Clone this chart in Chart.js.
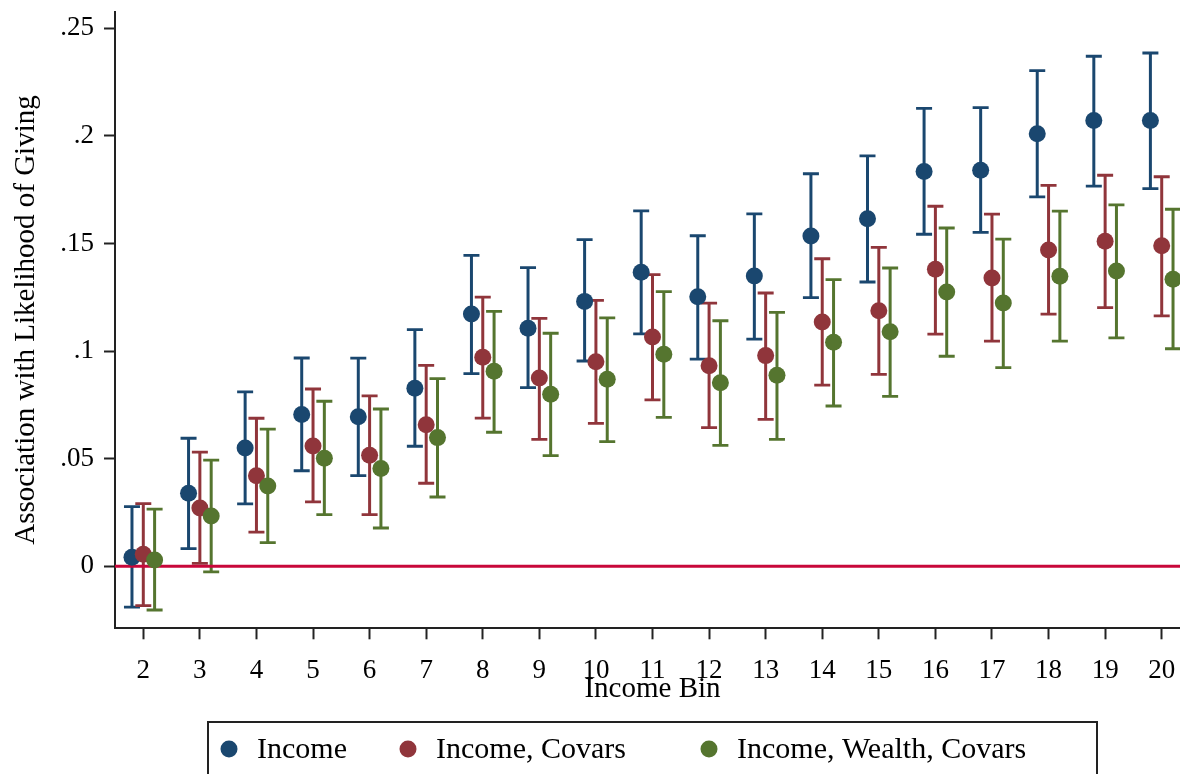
<!DOCTYPE html>
<html>
<head>
<meta charset="utf-8">
<script src="https://cdn.jsdelivr.net/npm/chart.js@4"></script>
<style>
body{margin:0;overflow:hidden;background:#fff;}
#wrap{width:1200px;height:800px;}
</style>
</head>
<body>
<div id="wrap"><canvas id="coefChart" width="1200" height="800"></canvas></div>
<script>

/* data */

var bins=[2,3,4,5,6,7,8,9,10,11,12,13,14,15,16,17,18,19,20];

var incomeEst=[0.0042,0.0339,0.055,0.0705,0.0695,0.0827,0.1172,0.1106,0.1231,0.1366,0.1253,0.1349,0.1535,0.1615,0.1835,0.184,0.201,0.2071,0.2071];
var incomeLo=[-0.019,0.0082,0.029,0.0444,0.0421,0.0558,0.0895,0.083,0.0954,0.108,0.0963,0.1056,0.1248,0.1321,0.1543,0.1552,0.1717,0.1767,0.1755];
var incomeHi=[0.0277,0.0595,0.0811,0.0968,0.0967,0.11,0.1445,0.1388,0.1518,0.1652,0.1536,0.1638,0.1824,0.1907,0.2128,0.2131,0.2303,0.237,0.2385];

var covarsEst=[0.0056,0.0271,0.0421,0.0559,0.0516,0.0658,0.0971,0.0875,0.0951,0.1066,0.0932,0.0979,0.1135,0.1188,0.138,0.134,0.147,0.151,0.149];
var covarsLo=[-0.0183,0.0014,0.0159,0.0299,0.024,0.0386,0.0689,0.059,0.0664,0.0773,0.0644,0.0683,0.0842,0.0892,0.1079,0.1046,0.1172,0.1202,0.1164];
var covarsHi=[0.0291,0.0531,0.0688,0.0824,0.0792,0.0934,0.1251,0.1152,0.1236,0.1355,0.1223,0.127,0.1429,0.1482,0.1673,0.1636,0.177,0.1817,0.181];

var wealthEst=[0.0029,0.0234,0.0373,0.0502,0.0455,0.0598,0.0906,0.0799,0.0869,0.0985,0.0853,0.0888,0.1041,0.109,0.1275,0.1223,0.1348,0.1372,0.1334];
var wealthLo=[-0.0203,-0.0026,0.011,0.024,0.0178,0.0322,0.0623,0.0514,0.0579,0.0692,0.0562,0.059,0.0745,0.079,0.0976,0.0923,0.1046,0.1061,0.1011];
var wealthHi=[0.0266,0.0493,0.0637,0.0767,0.0731,0.0872,0.1185,0.1083,0.1154,0.1276,0.1141,0.118,0.1332,0.1386,0.1572,0.152,0.165,0.1679,0.1659];

var yTicks=[0,0.05,0.1,0.15,0.2,0.25];
var yTickLabels=["0",".05",".1",".15",".2",".25"];

var seriesNames=["Income","Income, Covars","Income, Wealth, Covars"];
var seriesColors=["#1a476f","#90353b","#55752f"];
var offsets=[-0.2,0,0.2];

var FONT="'Liberation Serif','Times New Roman',serif";

function makePoints(est,off){
return bins.map(function(b,i){ return {x:b+off,y:est[i]}; });
}

function makeSet(k,est,lo,hi){
return {
label:seriesNames[k],
data:makePoints(est,offsets[k]),
lo:lo,hi:hi,off:offsets[k],
backgroundColor:seriesColors[k],
borderColor:seriesColors[k],
borderWidth:0,
pointRadius:8.5,
pointHoverRadius:8.5,
showLine:false,
order:3-k
};
}

/* error bars, then the zero line over them, all under the points */

var ciPlugin={
id:'ciPlugin',
beforeDatasetsDraw:function(chart){
var c=chart.ctx, xs=chart.scales.x, ys=chart.scales.y, a=chart.chartArea;
c.save();
chart.data.datasets.forEach(function(ds){
c.strokeStyle=ds.borderColor;
bins.forEach(function(b,i){
var x=xs.getPixelForValue(b+ds.off);
var yl=ys.getPixelForValue(ds.lo[i]);
var yh=ys.getPixelForValue(ds.hi[i]);
c.lineWidth=3;
c.beginPath();c.moveTo(x,yl);c.lineTo(x,yh);c.stroke();
c.lineWidth=2.8;
c.beginPath();
c.moveTo(x-8,yl);c.lineTo(x+8,yl);
c.moveTo(x-8,yh);c.lineTo(x+8,yh);
c.stroke();
});
});
var y0=ys.getPixelForValue(0);
c.strokeStyle="#c8073a";
c.lineWidth=3;
c.beginPath();c.moveTo(a.left,y0);c.lineTo(a.right,y0);c.stroke();
c.restore();
}
};

/* Stata style legend box under the plot */

var legendBox={
id:'legendBox',
afterDraw:function(chart){
var c=chart.ctx, a=chart.chartArea;
var cx=(a.left+a.right)/2;
var left=cx-444.5, top=722;
c.save();
c.strokeStyle="#222";
c.lineWidth=2;
c.strokeRect(left,top,889,56);
var dotX=[21,200,501];
c.font="30px "+FONT;
c.textBaseline="middle";
chart.data.datasets.forEach(function(ds,k){
c.fillStyle=ds.backgroundColor;
c.beginPath();
c.arc(left+dotX[k],749,8.5,0,Math.PI*2);
c.fill();
c.fillStyle="#000";
c.fillText(ds.label,left+dotX[k]+28,750);
});
c.restore();
}
};

new Chart(document.getElementById('coefChart'),{
type:'scatter',
data:{
datasets:[
makeSet(0,incomeEst,incomeLo,incomeHi),
makeSet(1,covarsEst,covarsLo,covarsHi),
makeSet(2,wealthEst,wealthLo,wealthHi)
]
},
plugins:[ciPlugin,legendBox],
options:{
responsive:false,
animation:false,
devicePixelRatio:1,
layout:{padding:{top:11.7,left:0,right:10,bottom:94.4}},
plugins:{legend:{display:false},tooltip:{enabled:false}},
scales:{
x:{
type:'linear',
min:1.5,
max:20.5,
afterBuildTicks:function(s){ s.ticks=bins.map(function(b){return {value:b};}); },
afterFit:function(s){ s.height=77.3; s.paddingLeft=0; s.paddingRight=0; },
border:{display:true,color:"#222",width:2},
grid:{display:true,drawOnChartArea:false,drawTicks:true,tickLength:11,tickColor:"#222",tickWidth:2},
ticks:{color:"#000",padding:15,font:{family:FONT,size:27,lineHeight:1.2},maxRotation:0,autoSkip:false},
title:{display:true,text:"Income Bin",color:"#000",padding:{top:0,bottom:0},font:{family:FONT,size:29,lineHeight:1.1}}
},
y:{
type:'linear',
min:-0.0288,
max:0.2577,
afterBuildTicks:function(s){ s.ticks=yTicks.map(function(v){return {value:v};}); },
afterFit:function(s){ s.width=115; s.paddingTop=0; s.paddingBottom=0; },
border:{display:true,color:"#222",width:2},
grid:{display:true,drawOnChartArea:false,drawTicks:true,tickLength:11,tickColor:"#222",tickWidth:2},
ticks:{
color:"#000",padding:10,font:{family:FONT,size:27,lineHeight:1.2},
callback:function(v){ var i=yTicks.indexOf(v); return i>=0?yTickLabels[i]:""; }
},
title:{display:true,text:"Association with Likelihood of Giving",color:"#000",padding:{top:10,bottom:0},font:{family:FONT,size:29,lineHeight:1.1}}
}
}
}
});

</script>
</body>
</html>
